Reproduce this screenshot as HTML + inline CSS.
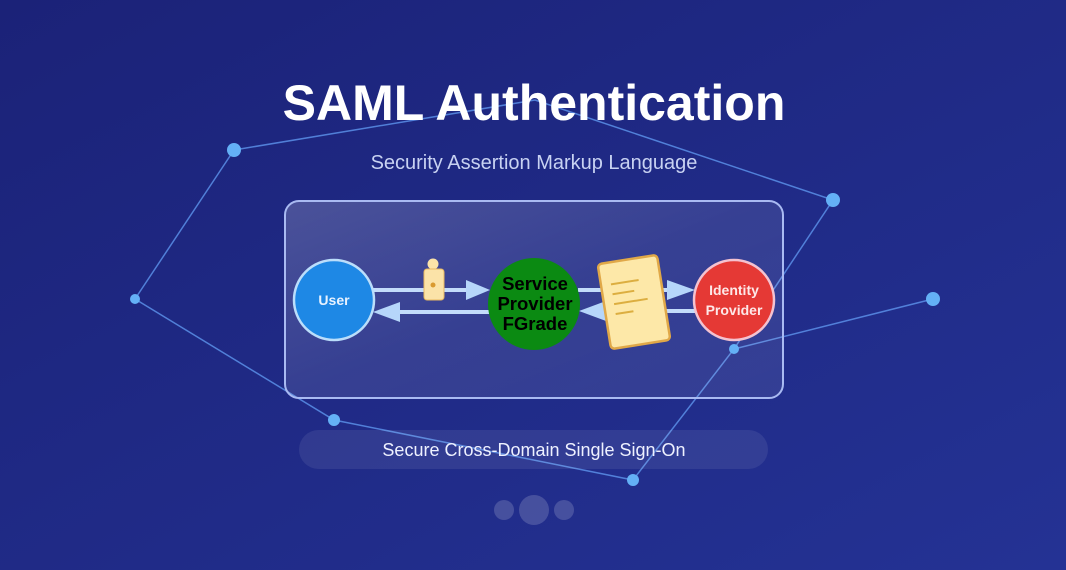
<!DOCTYPE html>
<html><head><meta charset="utf-8"><style>
html,body{margin:0;padding:0;width:1066px;height:570px;overflow:hidden;background:#1f2883}
svg{display:block}
</style></head><body>
<svg width="1066" height="570" viewBox="0 0 1066 570" xmlns="http://www.w3.org/2000/svg">
<defs>
<linearGradient id="bg" x1="0" y1="0" x2="1" y2="1">
<stop offset="0" stop-color="#1b2278"/><stop offset="1" stop-color="#243294"/>
</linearGradient>
<linearGradient id="box" x1="0" y1="0" x2="1" y2="1">
<stop offset="0" stop-color="#ffffff" stop-opacity="0.2"/><stop offset="0.5" stop-color="#ffffff" stop-opacity="0.1"/><stop offset="1" stop-color="#ffffff" stop-opacity="0.08"/>
</linearGradient>
</defs>
<rect width="1066" height="570" fill="url(#bg)"/>
<g stroke="#5b8fe8" stroke-width="1.5" fill="none" opacity="0.85">
<polyline points="234,150 535,100 833,200 734,349 633,480 334,420 135,299 234,150"/>
<line x1="734" y1="349" x2="933" y2="299"/>
</g>
<rect x="285" y="201" width="498" height="197" rx="14" fill="url(#box)" stroke="#a9baf2" stroke-width="2"/>
<g fill="#64b0f6">
<circle cx="234" cy="150" r="7"/><circle cx="833" cy="200" r="7"/><circle cx="135" cy="299" r="5"/>
<circle cx="933" cy="299" r="7"/><circle cx="734" cy="349" r="5"/><circle cx="334" cy="420" r="6"/><circle cx="633" cy="480" r="6"/>
</g>
<text x="534" y="120" text-anchor="middle" font-family="Liberation Sans, sans-serif" font-weight="bold" font-size="50" fill="#fff">SAML Authentication</text>
<text x="534" y="169" text-anchor="middle" font-family="Liberation Sans, sans-serif" font-size="20" fill="#c8d2f2">Security Assertion Markup Language</text>
<g stroke="#c3dcfb" stroke-width="4">
<line x1="372" y1="290" x2="470" y2="290"/><line x1="400" y1="312" x2="490" y2="312"/>
<line x1="578" y1="290" x2="670" y2="290"/><line x1="603" y1="311" x2="696" y2="311"/>
</g>
<g fill="#b6d6fa">
<polygon points="490,290 466,280 466,300"/>
<polygon points="373,312 400,302 400,322"/>
<polygon points="695,290 667,280 667,300"/>
<polygon points="579,311 606,301 606,321"/>
</g>
<circle cx="334" cy="300" r="40" fill="#1e88e5" stroke="#bbdefb" stroke-width="2.5"/>
<text x="334" y="305" text-anchor="middle" font-family="Liberation Sans, sans-serif" font-weight="bold" font-size="14" fill="#e8f2ff">User</text>
<circle cx="534" cy="304" r="46" fill="#0b8a12"/>
<g font-family="Liberation Sans, sans-serif" font-weight="bold" font-size="18.5" fill="#000" text-anchor="middle">
<text x="535" y="290">Service</text><text x="535" y="310">Provider</text><text x="535" y="330">FGrade</text>
</g>
<circle cx="734" cy="300" r="40" fill="#e53935" stroke="#f4c2d0" stroke-width="2.5"/>
<g font-family="Liberation Sans, sans-serif" font-weight="bold" font-size="14" fill="#fde8e8" text-anchor="middle">
<text x="734" y="295">Identity</text><text x="734" y="315">Provider</text>
</g>
<circle cx="433" cy="264" r="5.5" fill="#fbe3a8"/>
<rect x="424" y="269" width="20" height="31" rx="3" fill="#fbe3a8" stroke="#e8b860" stroke-width="1"/>
<circle cx="433" cy="285" r="2.5" fill="#d99a30"/>
<g transform="rotate(-9 634 302)">
<rect x="604" y="259" width="60" height="86" rx="4" fill="#fde8a8" stroke="#e0a848" stroke-width="2.5"/>
<g stroke="#dcae40" stroke-width="2">
<line x1="614" y1="281" x2="642" y2="281"/><line x1="614" y1="291" x2="636" y2="291"/>
<line x1="614" y1="301" x2="648" y2="301"/><line x1="614" y1="311" x2="632" y2="311"/>
</g>
</g>
<rect x="299" y="430" width="469" height="39" rx="19.5" fill="#ffffff" fill-opacity="0.08"/>
<text x="534" y="456" text-anchor="middle" font-family="Liberation Sans, sans-serif" font-size="18" fill="#eef1ff">Secure Cross-Domain Single Sign-On</text>
<g fill="#ffffff" fill-opacity="0.17">
<circle cx="504" cy="510" r="10"/><circle cx="534" cy="510" r="15"/><circle cx="564" cy="510" r="10"/>
</g>
</svg>
</body></html>
